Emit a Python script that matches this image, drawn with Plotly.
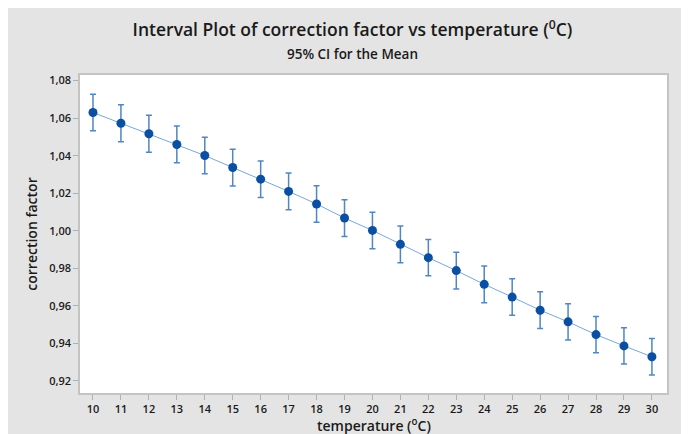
import plotly.graph_objects as go

# values
temperature = list(range(10, 31))
correction_mean = [1.0630, 1.0573, 1.0517, 1.0460, 1.0401, 1.0337, 1.0275,
                   1.0210, 1.0143, 1.0068, 1.0002, 0.9928, 0.9857, 0.9788,
                   0.9715, 0.9647, 0.9577, 0.9515, 0.9447, 0.9387, 0.9329]
ci_half = [0.0097, 0.0099, 0.0098, 0.0098, 0.0097, 0.0098, 0.0097,
           0.0098, 0.0097, 0.0098, 0.0097, 0.0098, 0.0097, 0.0098,
           0.0098, 0.0097, 0.0098, 0.0097, 0.0097, 0.0097, 0.0097]
y_ticks = [0.92, 0.94, 0.96, 0.98, 1.00, 1.02, 1.04, 1.06, 1.08]

BG = '#e4e4e4'
FONT = 'Open Sans'
TXT = '#1a1a1a'

fig = go.Figure()
fig.add_trace(go.Scatter(
    x=temperature, y=correction_mean,
    mode='lines+markers',
    line=dict(color='#7aa8d8', width=1),
    marker=dict(size=9, color='#0b4fa3'),
    error_y=dict(type='data', array=ci_half, visible=True,
                 color='#4f86c6', thickness=1.5, width=3),
    showlegend=False,
))

fig.update_layout(
    width=689, height=434,
    autosize=False,
    separators=',.',
    paper_bgcolor=BG,
    plot_bgcolor='white',
    font=dict(family=FONT, size=11, color=TXT),
    margin=dict(l=72, r=30, t=67, b=49, pad=0),
    title=dict(
        text='Interval Plot of correction factor vs temperature (<sup>0</sup>C)'
             '<br><span style="font-size:13.5px">95% CI for the Mean</span>',
        x=0.5, xanchor='center', y=0.935, yanchor='middle',
        font=dict(family=FONT, size=17.5, color=TXT, weight=600),
    ),
)

# x axis title as an annotation so it sits tight under the tick labels
fig.add_annotation(
    text='temperature (<sup>o</sup>C)', xref='paper', yref='paper',
    x=0.5, y=-0.1, xanchor='center', yanchor='middle', showarrow=False,
    font=dict(family=FONT, size=14, color=TXT, weight=600),
)

fig.update_xaxes(
    range=[9.535, 30.54], tickmode='array', tickvals=temperature,
    showgrid=False, zeroline=False,
    showline=True, linecolor='#c4c4c4', linewidth=1.5, mirror=True,
    ticks='outside', ticklen=5, tickcolor='#b0b0b0',
    tickfont=dict(family=FONT, size=11, color=TXT, weight=600),
)
fig.update_yaxes(
    range=[0.9136, 1.083], tickmode='array', tickvals=y_ticks,
    tickformat='.2f',
    showgrid=False, zeroline=False,
    showline=True, linecolor='#c4c4c4', linewidth=1.5, mirror=True,
    ticks='outside', ticklen=5, tickcolor='#b0b0b0',
    tickfont=dict(family=FONT, size=11, color=TXT, weight=600),
    title=dict(text='correction factor', standoff=8,
               font=dict(family=FONT, size=14, color=TXT, weight=600)),
)

fig.write_html("out.html")
